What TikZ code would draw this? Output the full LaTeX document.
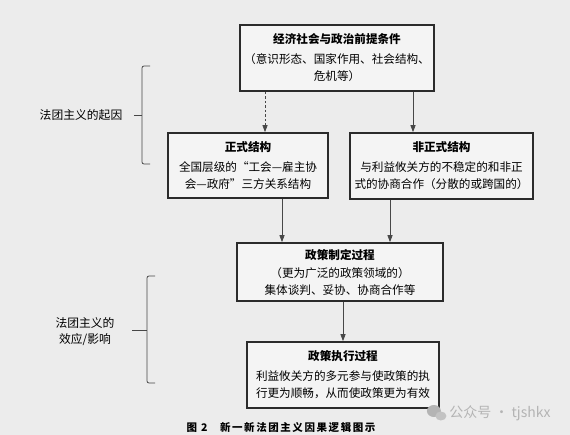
\documentclass[tikz,border=0pt]{standalone}
\usepackage{fontspec}
\usepackage{tikz}
\usetikzlibrary{arrows.meta,positioning,calc}
\setmainfont{Noto Sans CJK SC}
\newfontfamily\cjk{Noto Sans CJK SC}
\newfontfamily\capfont[LetterSpace=15]{Noto Sans CJK SC}
\definecolor{bggray}{HTML}{ECECEC}
\definecolor{boxline}{HTML}{2B2B2B}
\definecolor{linegray}{HTML}{474747}
\definecolor{markgray}{HTML}{B4B4B4}

\begin{document}
\begin{tikzpicture}[x=1pt, y=-1pt,
        box/.style={rectangle, draw=boxline, line width=1.6pt,
                    fill=bggray!60!white, align=center, inner sep=0pt,
                    font=\cjk\fontsize{11.6}{17}\selectfont},
        arrow/.style={-{Triangle[width=5pt,length=7pt]}, line width=0.8pt, draw=linegray},
        dasharrow/.style={arrow, dash pattern=on 2.5pt off 2pt},
        brace/.style={line width=0.8pt, draw=linegray, rounded corners=2pt},
        lbl/.style={font=\cjk\fontsize{11.8}{16}\selectfont, align=center}]

        % background and page size
        \fill[bggray] (0,0) rectangle (570,435);
        \useasboundingbox (0,0) rectangle (570,435);

        % preconditions node
        \node[box, minimum width=194pt, minimum height=66pt] (pre) at (337, 58)
            {{\bfseries 经济社会与政治前提条件}\\[3pt]（意识形态、国家作用、社会结构、\\危机等）};

        % formal structure node
        \node[box, minimum width=160pt, minimum height=65pt] (formal) at (248, 165.5)
            {{\bfseries 正式结构}\\[3pt]全国层级的“工会—雇主协\\会—政府”三方关系结构};

        % informal structure node
        \node[box, minimum width=183pt, minimum height=66pt] (informal) at (441.5, 166)
            {{\bfseries 非正式结构}\\[3pt]与利益攸关方的不稳定的和非正\\式的协商合作（分散的或跨国的）};

        % policy making node
        \node[box, minimum width=206pt, minimum height=58pt] (making) at (340, 272)
            {{\bfseries 政策制定过程}\\[1pt]（更为广泛的政策领域的）\\集体谈判、妥协、协商合作等};

        % policy execution node
        \node[box, minimum width=192pt, minimum height=66pt] (exec) at (343, 375)
            {{\bfseries 政策执行过程}\\[3pt]利益攸关方的多元参与使政策的执\\行更为顺畅，从而使政策更为有效};

        % arrows between the boxes
        \draw[dasharrow] ([xshift=17pt]formal.north |- pre.south) -- ([xshift=17pt]formal.north);
        \draw[arrow] ([xshift=-28.5pt]informal.north |- pre.south) -- ([xshift=-28.5pt]informal.north);
        \draw[arrow] ([xshift=34pt]formal.south) -- ([xshift=34pt]formal.south |- making.north);
        \draw[arrow] ([xshift=-51.5pt]informal.south) -- ([xshift=-51.5pt]informal.south |- making.north);
        \draw[arrow] (exec.north |- making.south) -- (exec.north);

        % side labels
        \node[lbl] (cause) at (81, 115) {法团主义的起因};
        \node[lbl] (effect) at (85, 332) {法团主义的\\效应/影响};

        % braces
        \draw[brace] (150,66) -- (142,66) -- (142,164) -- (150,164);
        \draw[brace] ([xshift=8pt]cause.east) -- (142,115);
        \draw[brace] (155,276) -- (147,276) -- (147,383) -- (155,383);
        \draw[brace] (132,330) -- (147,330);

        % caption and mark
        \node[font=\capfont\bfseries\fontsize{10.5}{12}\selectfont] (caption) at (281, 428)
            {图 2\hspace{1.2em}新一新法团主义因果逻辑图示};
        \node[font=\cjk\fontsize{14}{16}\selectfont, text=markgray, anchor=east] (mark) at (554, 413)
            {公众号 · tjshkx};
        \fill[markgray] ([xshift=-12pt,yshift=2pt]mark.west) ellipse (7pt and 6pt);
        \fill[markgray!80!white] ([xshift=-5pt,yshift=-3pt]mark.west) ellipse (5.5pt and 4.5pt);

    \end{tikzpicture}
\end{document}
